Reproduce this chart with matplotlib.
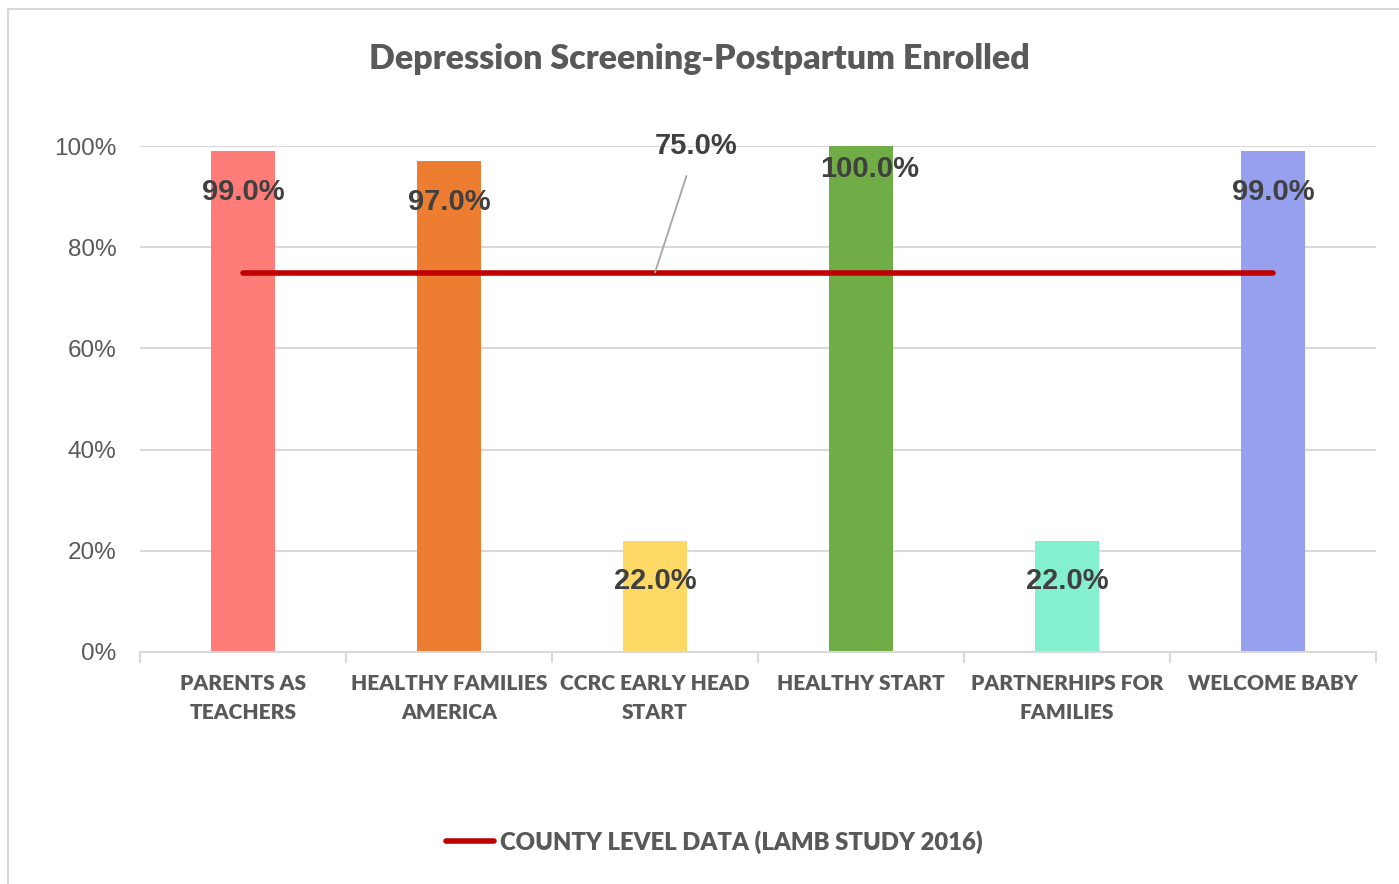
import matplotlib
matplotlib.use("Agg")
import matplotlib.pyplot as plt
from matplotlib.lines import Line2D
from matplotlib.ticker import FuncFormatter

# Chart data
categories = ["PARENTS AS\nTEACHERS", "HEALTHY FAMILIES\nAMERICA", "CCRC EARLY HEAD\nSTART",
              "HEALTHY START", "PARTNERHIPS FOR\nFAMILIES", "WELCOME BABY"]
values = [0.99, 0.97, 0.22, 1.00, 0.22, 0.99]
county_level = [0.75] * 6
bar_colors = ["#FF7C78", "#ED7D31", "#FFD966", "#70AD47", "#84F0D0", "#96A0EE"]
legend_label = "COUNTY LEVEL DATA (LAMB STUDY 2016)"
title = "Depression Screening-Postpartum Enrolled"

# label offsets below bar tops (the 100% one sits higher in the original)
label_drop = [0.08, 0.08, 0.08, 0.045, 0.08, 0.08]
label_shift = [0, 0, 0, 0.04, 0, 0]

label_font = ["Lato", "DejaVu Sans"]
num_font = ["Liberation Sans", "DejaVu Sans"]
text_gray = "#595959"

fig = plt.figure(figsize=(13.99, 8.84), dpi=100)
ax = fig.add_axes([140 / 1399, 1 - 652 / 884, 1236 / 1399, 506 / 884])

x = list(range(len(categories)))
ax.bar(x, values, width=0.315, color=bar_colors, zorder=2)
line, = ax.plot(x, county_level, color="#C00000", lw=4, solid_capstyle="round", zorder=3,
                label=legend_label)

ax.set_xlim(-0.5, len(categories) - 0.5)
ax.set_ylim(0, 1)
ax.set_yticks([0, 0.2, 0.4, 0.6, 0.8, 1.0])
ax.yaxis.set_major_formatter(FuncFormatter(lambda v, p: f"{v * 100:.0f}%"))
ax.grid(axis="y", color="#D9D9D9", lw=1.5, zorder=0)
ax.tick_params(axis="y", length=0, pad=17, labelsize=17.5, labelcolor=text_gray)
for t in ax.get_yticklabels():
    t.set_family(num_font)

# category ticks: labels at centres, tick marks at boundaries
ax.set_xticks(x)
ax.set_xticklabels(categories)
ax.tick_params(axis="x", length=0, pad=16, labelsize=15)
for t in ax.get_xticklabels():
    t.set_family(label_font)
    t.set_weight("heavy")
    t.set_color(text_gray)
    t.set_linespacing(1.6)
ax.set_xticks([i - 0.5 for i in range(len(categories) + 1)], minor=True)
ax.tick_params(axis="x", which="minor", length=8, width=1.5, color="#D9D9D9")

for s in ["top", "right", "left"]:
    ax.spines[s].set_visible(False)
ax.spines["bottom"].set_color("#D9D9D9")
ax.spines["bottom"].set_linewidth(1.5)

# data labels
for xi, v, d, sh in zip(x, values, label_drop, label_shift):
    ax.text(xi + sh, v - d, f"{v * 100:.1f}%", ha="center", va="center", fontsize=21,
            fontweight="bold", color="#404040", family=num_font, zorder=4)

ax.annotate(f"{county_level[2] * 100:.1f}%", xy=(2.0, county_level[2]), xytext=(2.2, 1.0),
            ha="center", va="center", fontsize=21, fontweight="bold", color="#404040",
            family=num_font, annotation_clip=False,
            arrowprops=dict(arrowstyle="-", color="#A6A6A6", lw=1.3, shrinkA=10, shrinkB=0))

fig.text(0.5, 1 - 59 / 884, title, ha="center", va="center", fontsize=24.5,
         fontweight="heavy", color=text_gray, family=label_font)

leg = fig.legend(handles=[line], loc="center", bbox_to_anchor=(0.5 + 15 / 1399, 1 - 842 / 884),
                 frameon=False, handlelength=2.0, handletextpad=0.25,
                 prop={"family": label_font, "weight": "heavy", "size": 17.2})
for t in leg.get_texts():
    t.set_color(text_gray)

# chart border
fig.add_artist(Line2D([8 / 1399, 8 / 1399], [0, 1 - 9 / 884], color="#D9D9D9", lw=1.5))
fig.add_artist(Line2D([8 / 1399, 1], [1 - 9 / 884, 1 - 9 / 884], color="#D9D9D9", lw=1.5))

fig.savefig("out.png", dpi=100, facecolor="white")
